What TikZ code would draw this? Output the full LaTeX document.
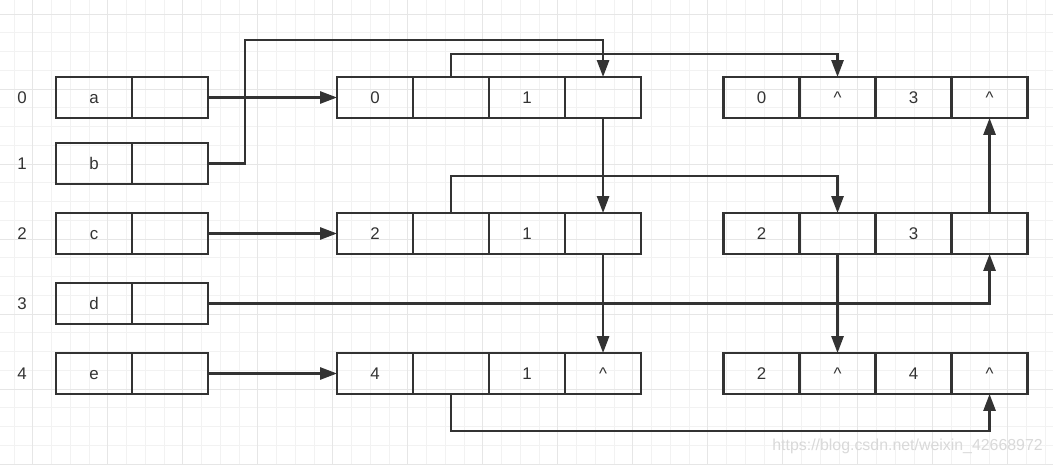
\documentclass[tikz,border=0pt]{standalone}
\usepackage{fontspec}
\setmainfont{Liberation Sans}
\usetikzlibrary{arrows.meta, positioning}

\definecolor{linec}{HTML}{333333}
\definecolor{textc}{HTML}{333333}
\definecolor{gridminor}{HTML}{F2F2F2}
\definecolor{gridmajor}{HTML}{E6E6E6}
\definecolor{wmarkc}{HTML}{D9D9D9}

\begin{document}
\begin{tikzpicture}[
  x=0.025cm, y=-0.025cm,
  font=\fontsize{12}{14}\selectfont,
  cell/.style={rectangle, draw=linec, line width=1.7pt, text=textc, inner sep=0pt, outer sep=0pt, minimum width=1.9cm, minimum height=1.025cm, text height=8.6pt, text depth=0pt},
  idx/.style={text=textc, inner sep=0pt},
  link/.style={-{Triangle[length=0.42cm, width=0.3cm]}, line width=1.7pt, draw=linec},
  minorline/.style={draw=gridminor, line width=0.6pt},
  majorline/.style={draw=gridmajor, line width=0.6pt}
]
\useasboundingbox (0,0) rectangle (1053,465);
\fill[white] (0,0) rectangle (1053,465);

% background grid
\foreach \k in {0,...,55} \draw[minorline] ({14+18.75*\k},0) -- ({14+18.75*\k},465);
\foreach \k in {0,...,24} \draw[minorline] (0,{14+18.75*\k}) -- (1053,{14+18.75*\k});
\foreach \k in {0,...,13} \draw[majorline] ({32.75+75*\k},0) -- ({32.75+75*\k},465);
\foreach \k in {0,...,6} \draw[majorline] (0,{14+75*\k}) -- (1053,{14+75*\k});

% vertex table
\node[idx] (i0) at (22,97.5)  {0};
\node[idx] (i1) at (22,163.5) {1};
\node[idx] (i2) at (22,233.5) {2};
\node[idx] (i3) at (22,303.5) {3};
\node[idx] (i4) at (22,373.5) {4};

\node[cell] (v0) at (94,97.5)  {a};
\node[cell, right=0pt of v0] (v0p) {};
\node[cell] (v1) at (94,163.5) {b};
\node[cell, right=0pt of v1] (v1p) {};
\node[cell] (v2) at (94,233.5) {c};
\node[cell, right=0pt of v2] (v2p) {};
\node[cell] (v3) at (94,303.5) {d};
\node[cell, right=0pt of v3] (v3p) {};
\node[cell] (v4) at (94,373.5) {e};
\node[cell, right=0pt of v4] (v4p) {};

% edge nodes
\node[cell] (e01a) at (375,97.5) {0};
\node[cell, right=0pt of e01a] (e01b) {};
\node[cell, right=0pt of e01b] (e01c) {1};
\node[cell, right=0pt of e01c] (e01d) {};

\node[cell] (e03a) at (761.5,97.5) {0};
\node[cell, right=0pt of e03a] (e03b) {\textasciicircum};
\node[cell, right=0pt of e03b] (e03c) {3};
\node[cell, right=0pt of e03c] (e03d) {\textasciicircum};

\node[cell] (e21a) at (375,233.5) {2};
\node[cell, right=0pt of e21a] (e21b) {};
\node[cell, right=0pt of e21b] (e21c) {1};
\node[cell, right=0pt of e21c] (e21d) {};

\node[cell] (e23a) at (761.5,233.5) {2};
\node[cell, right=0pt of e23a] (e23b) {};
\node[cell, right=0pt of e23b] (e23c) {3};
\node[cell, right=0pt of e23c] (e23d) {};

\node[cell] (e41a) at (375,373.5) {4};
\node[cell, right=0pt of e41a] (e41b) {};
\node[cell, right=0pt of e41b] (e41c) {1};
\node[cell, right=0pt of e41c] (e41d) {\textasciicircum};

\node[cell] (e24a) at (761.5,373.5) {2};
\node[cell, right=0pt of e24a] (e24b) {\textasciicircum};
\node[cell, right=0pt of e24b] (e24c) {4};
\node[cell, right=0pt of e24c] (e24d) {\textasciicircum};

% links
\draw[link] (v0p.east) -- (e01a.west);
\draw[link] (v1p.east) -- ++(37,0) |- (e01d.north |- 0,40) -- (e01d.north);
\draw[link] (e01b.north) -- ++(0,-23) -| (e03b.north);
\draw[link] (e01d.south) -- (e21d.north);
\draw[link] (v2p.east) -- (e21a.west);
\draw[link] (e21b.north) -- ++(0,-37) -| (e23b.north);
\draw[link] (e23d.north) -- (e03d.south);
\draw[link] (v3p.east) -| (e23d.south);
\draw[link] (e21d.south) -- (e41d.north);
\draw[link] (e23b.south) -- (e24b.north);
\draw[link] (v4p.east) -- (e41a.west);
\draw[link] (e41b.south) -- ++(0,37) -| (e24d.south);

\node[text=wmarkc, font=\fontsize{11.3}{13}\selectfont, anchor=east, inner sep=0pt] (wmark) at (1043,446) {https://blog.csdn.net/weixin\_42668972};
\end{tikzpicture}
\end{document}
